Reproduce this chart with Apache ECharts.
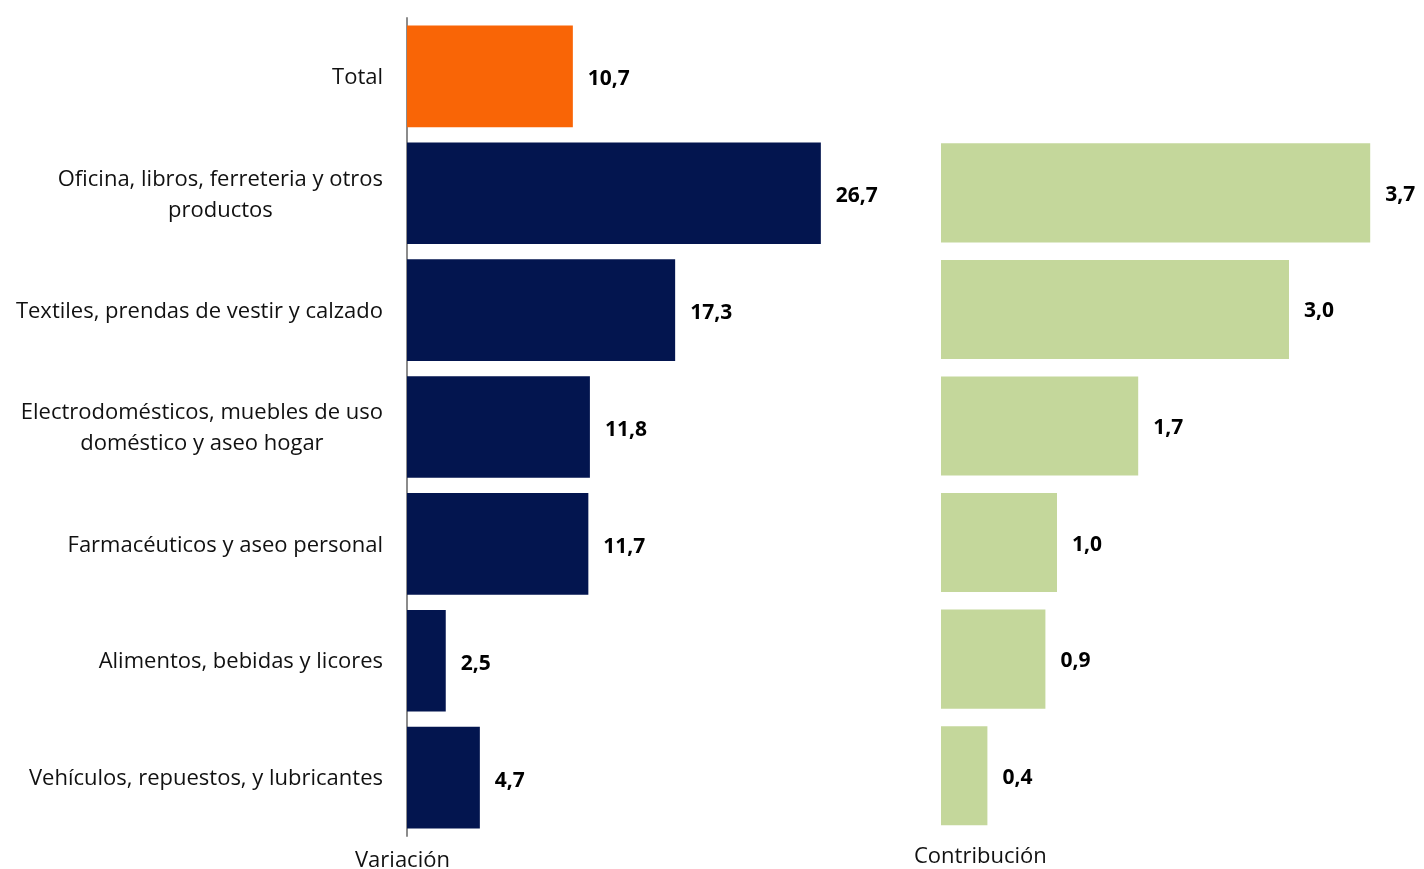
<!DOCTYPE html>
<html>
<head>
<meta charset="utf-8">
<script src="https://cdn.jsdelivr.net/npm/echarts@6/dist/echarts.min.js"></script>
<style>html,body{margin:0;padding:0;background:#fff}#c{width:1424px;height:869px}</style>
</head>
<body>
<div id="c"></div>
<script>
var categories = ['Total', 'Oficina, libros, ferreteria y otros\nproductos', 'Textiles, prendas de vestir y calzado', 'Electrodomésticos, muebles de uso\ndoméstico y aseo hogar', 'Farmacéuticos y aseo personal', 'Alimentos, bebidas y licores', 'Vehículos, repuestos, y lubricantes'];
var variacion = [10.7, 26.7, 17.3, 11.8, 11.7, 2.5, 4.7];
var contribucion = [null, 3.7, 3.0, 1.7, 1.0, 0.9, 0.4];
var axisTitles = ['Variación', 'Contribución'];

var FONT = 'Open Sans';
function fmt(p){ return p.value == null ? '' : p.value.toFixed(1).replace('.', ','); }
function catFmt(v){ return v.split('\n').map(function(l){ return '{c|' + l + '}'; }).join('\n'); }

var chart = echarts.init(document.getElementById('c'), null, {renderer: 'canvas'});
chart.setOption({
  animation: false,
  backgroundColor: '#ffffff',
  grid: [
    {left: 407, top: 18, width: 465, height: 818},
    {left: 941, top: 18, width: 464, height: 816}
  ],
  xAxis: [
    {gridIndex: 0, type: 'value', min: 0, max: 30, show: false},
    {gridIndex: 1, type: 'value', min: 0, max: 4, show: false}
  ],
  yAxis: [
    {gridIndex: 0, type: 'category', data: categories, inverse: true,
     axisLine: {show: true, lineStyle: {color: '#8c8c8c', width: 2}},
     axisTick: {show: false}, splitLine: {show: false},
     axisLabel: {margin: 24, align: 'right', formatter: catFmt,
       rich: {c: {fontFamily: FONT, fontSize: 22, color: '#111', lineHeight: 31, align: 'center', padding: [3, 0, 0, 0]}}}},
    {gridIndex: 1, type: 'category', data: categories, inverse: true, show: false}
  ],
  series: [
    {type: 'bar', xAxisIndex: 0, yAxisIndex: 0, data: variacion.map(function(v, i){
        return {value: v, itemStyle: {color: i === 0 ? '#F96506' : '#03154F'}};
      }),
     barCategoryGap: '13%',
     label: {show: true, position: 'right', distance: 15, formatter: fmt, offset: [0, 3],
             fontFamily: FONT, fontWeight: 'bold', fontSize: 21, color: '#000'}},
    {type: 'bar', xAxisIndex: 1, yAxisIndex: 1, data: contribucion,
     barCategoryGap: '15%',
     itemStyle: {color: '#C4D79B'},
     label: {show: true, position: 'right', distance: 15, formatter: fmt, offset: [0, 2],
             fontFamily: FONT, fontWeight: 'bold', fontSize: 21, color: '#000'}}
  ],
  graphic: [
    {type: 'text', left: 355, top: 850, style: {text: axisTitles[0], fontFamily: FONT, fontSize: 22, fill: '#111'}},
    {type: 'text', left: 914, top: 846, style: {text: axisTitles[1], fontFamily: FONT, fontSize: 22, fill: '#111'}}
  ]
});
</script>
</body>
</html>
